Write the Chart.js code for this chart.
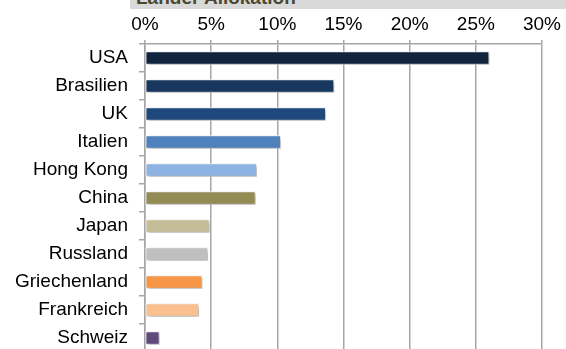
<!DOCTYPE html>
<html>
<head>
<meta charset="utf-8">
<script src="https://cdn.jsdelivr.net/npm/chart.js@4/dist/chart.umd.min.js"></script>
<style>
  html, body { margin: 0; padding: 0; width: 566px; height: 349px; overflow: hidden; background: #fff; }
  #band { position: absolute; left: 130px; top: 0; width: 436px; height: 9px; background: #d9d9d9; overflow: hidden; }
  #title { position: absolute; left: 6px; top: -12px; font: bold 19px "Liberation Sans", Arial, sans-serif; line-height: 19px; color: #4a4830; white-space: nowrap; }
  #wrap { position: absolute; left: 0; top: 0; width: 566px; height: 352px; }
</style>
</head>
<body>
<div id="band"><span id="title">Länder Allokation</span></div>
<div id="wrap"><canvas id="c" width="566" height="352"></canvas></div>
<script>
const categories = ["USA", "Brasilien", "UK", "Italien", "Hong Kong", "China", "Japan", "Russland", "Griechenland", "Frankreich", "Schweiz"];
const values = [26.0, 14.28, 13.65, 10.25, 8.44, 8.34, 4.86, 4.74, 4.31, 4.06, 1.08];
const barColors = ["#10243e", "#17375e", "#1f497d", "#4f81bd", "#8db3e2", "#948a54", "#c4bd97", "#bfbfbf", "#f79646", "#fac090", "#604a7b"];
const tickValues = [0, 5, 10, 15, 20, 25, 30];

const FONT = "'Liberation Sans', Arial, sans-serif";
const GRID = "#a6a6a6";

const shadowPlugin = {
  id: 'barShadow',
  beforeDatasetsDraw(chart) {
    const ctx = chart.ctx;
    ctx.save();
    ctx.shadowColor = 'rgba(0,0,0,0.35)';
    ctx.shadowBlur = 4;
    ctx.shadowOffsetX = 2;
    ctx.shadowOffsetY = 2;
  },
  afterDatasetsDraw(chart) {
    chart.ctx.restore();
  }
};

new Chart(document.getElementById('c'), {
  type: 'bar',
  data: {
    labels: categories,
    datasets: [{
      data: values,
      backgroundColor: barColors,
      borderColor: '#ffffff',
      borderWidth: 1,
      borderSkipped: false,
      barThickness: 13
    }]
  },
  plugins: [shadowPlugin],
  options: {
    indexAxis: 'y',
    responsive: false,
    animation: false,
    devicePixelRatio: 1,
    layout: { padding: { left: 0, right: 24, top: 0, bottom: 0 } },
    plugins: { legend: { display: false }, tooltip: { enabled: false }, title: { display: false } },
    scales: {
      x: {
        position: 'top',
        min: 0,
        max: 30,
        afterBuildTicks(scale) { scale.ticks = tickValues.map(v => ({ value: v })); },
        afterFit(scale) { scale.height = 44; scale.paddingLeft = 0; scale.paddingRight = 0; },
        ticks: {
          callback: v => v + '%',
          font: { family: FONT, size: 19 },
          color: '#000',
          padding: 4,
          maxRotation: 0,
          autoSkip: false
        },
        grid: { color: GRID, lineWidth: 1.5, tickLength: 4, drawTicks: true },
        border: { display: true, color: GRID, width: 1.5 }
      },
      y: {
        afterFit(scale) { scale.width = 145; scale.paddingTop = 0; scale.paddingBottom = 0; },
        ticks: {
          font: { family: FONT, size: 19 },
          color: '#000',
          padding: 11,
          autoSkip: false
        },
        grid: { color: GRID, lineWidth: 1.5, tickLength: 6, drawOnChartArea: false, drawTicks: true, offset: true },
        border: { display: true, color: GRID, width: 1.5 }
      }
    }
  }
});
</script>
</body>
</html>
